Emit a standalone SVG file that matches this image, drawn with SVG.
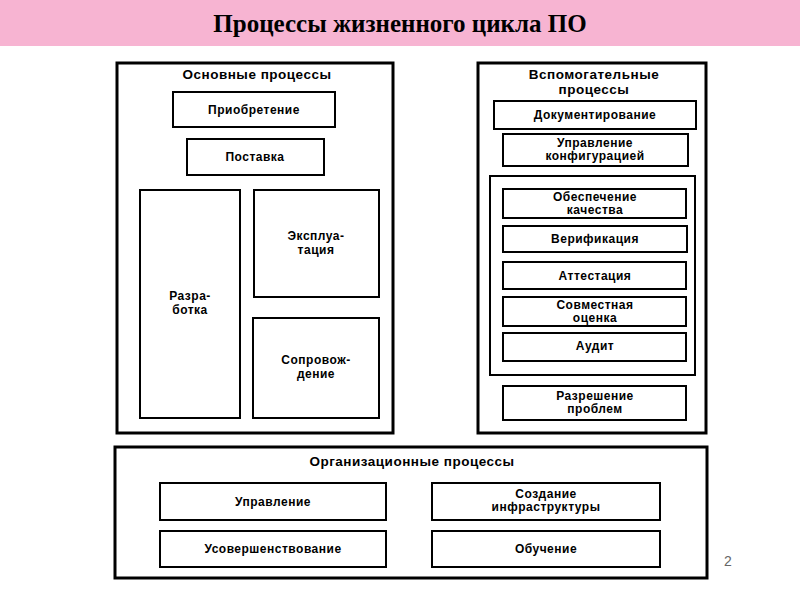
<svg xmlns="http://www.w3.org/2000/svg" width="800" height="600" viewBox="0 0 800 600">
<style>
.b{fill:none;stroke:#000;stroke-width:2}
.o{fill:none;stroke:#000;stroke-width:3}
.t{font-family:"Liberation Sans",Arial,sans-serif;font-weight:bold;font-size:12px;text-anchor:middle;fill:#000;letter-spacing:0.5px}
.h{font-size:13.5px}
</style>
<rect width="800" height="600" fill="#fff"/>
<rect x="0" y="0" width="800" height="46" fill="#f7b4d2"/>
<text x="400" y="32" font-family="'Liberation Serif','Times New Roman',serif" font-weight="bold" font-size="25" text-anchor="middle">Процессы жизненного цикла ПО</text>
<g id="main">
<rect class="o" x="117" y="63" width="276" height="370"/>
<text class="t h" x="257" y="79">Основные процессы</text>
</g>
<g id="n1"><rect class="b" x="173" y="92" width="162" height="35"/><text class="t" x="254" y="114">Приобретение</text></g>
<g id="n2"><rect class="b" x="187" y="139" width="137" height="36"/><text class="t" x="255" y="161">Поставка</text></g>
<g id="n3"><rect class="b" x="140" y="190" width="100" height="228"/><text class="t" x="190" y="300">Разра-</text><text class="t" x="190" y="314">ботка</text></g>
<g id="n4"><rect class="b" x="254" y="190" width="125" height="107"/><text class="t" x="316" y="240">Эксплуа-</text><text class="t" x="316" y="254">тация</text></g>
<g id="n5"><rect class="b" x="253" y="318" width="126" height="100"/><text class="t" x="316" y="364">Сопровож-</text><text class="t" x="316" y="378">дение</text></g>
<g id="aux">
<rect class="o" x="478" y="63" width="228" height="370"/>
<text class="t h" x="594" y="79">Вспомогательные</text>
<text class="t h" x="594" y="94">процессы</text>
</g>
<g id="a1"><rect class="b" x="494" y="101" width="202" height="28"/><text class="t" x="595" y="119">Документирование</text></g>
<g id="a2"><rect class="b" x="503" y="134" width="185" height="32"/><text class="t" x="595" y="147">Управление</text><text class="t" x="595" y="160">конфигурацией</text></g>
<g id="grp"><rect class="b" x="490" y="176" width="205" height="199"/></g>
<g id="a3"><rect class="b" x="503" y="189" width="183" height="29"/><text class="t" x="595" y="201">Обеспечение</text><text class="t" x="595" y="214">качества</text></g>
<g id="a4"><rect class="b" x="503" y="226" width="184" height="26"/><text class="t" x="595" y="243">Верификация</text></g>
<g id="a5"><rect class="b" x="503" y="262" width="183" height="27"/><text class="t" x="595" y="280">Аттестация</text></g>
<g id="a6"><rect class="b" x="503" y="297" width="183" height="29"/><text class="t" x="595" y="309">Совместная</text><text class="t" x="595" y="322">оценка</text></g>
<g id="a7"><rect class="b" x="503" y="333" width="183" height="28"/><text class="t" x="595" y="350">Аудит</text></g>
<g id="a8"><rect class="b" x="503" y="386" width="183" height="34"/><text class="t" x="595" y="400">Разрешение</text><text class="t" x="595" y="413">проблем</text></g>
<g id="org">
<rect class="o" x="115" y="447" width="592" height="131"/>
<text class="t h" x="412" y="466">Организационные процессы</text>
</g>
<g id="o1"><rect class="b" x="160" y="483" width="226" height="37"/><text class="t" x="273" y="506">Управление</text></g>
<g id="o2"><rect class="b" x="432" y="483" width="228" height="37"/><text class="t" x="546" y="498">Создание</text><text class="t" x="546" y="511">инфраструктуры</text></g>
<g id="o3"><rect class="b" x="160" y="531" width="226" height="36"/><text class="t" x="273" y="553">Усовершенствование</text></g>
<g id="o4"><rect class="b" x="432" y="531" width="228" height="36"/><text class="t" x="546" y="553">Обучение</text></g>
<g id="connectors"></g>
<text x="728" y="566" font-family="'Liberation Sans',Arial,sans-serif" font-size="14" fill="#666" text-anchor="middle">2</text>
</svg>
